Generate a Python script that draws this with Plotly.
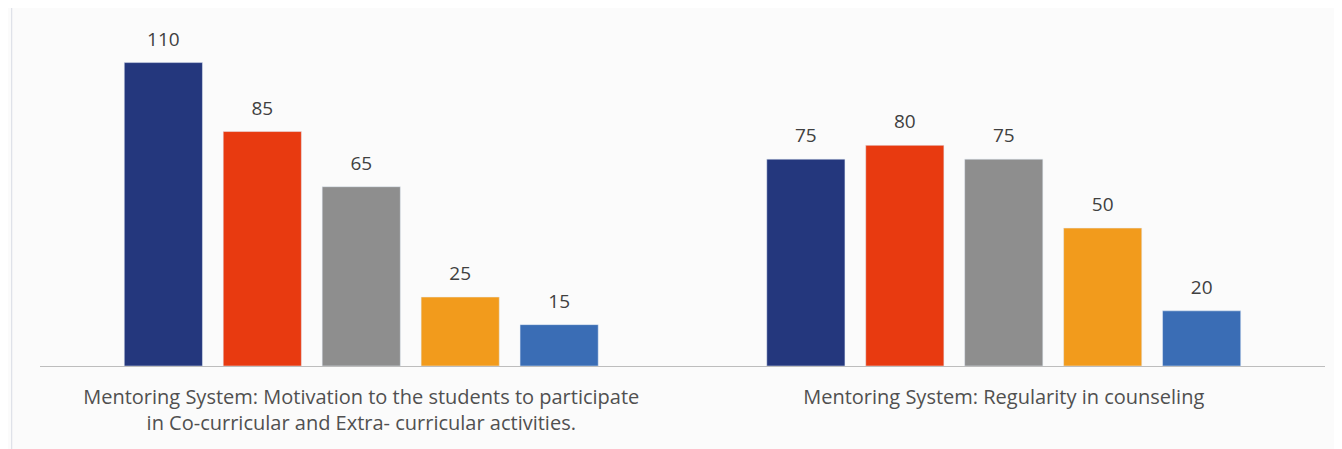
import plotly.graph_objects as go

# Data
categories = [
    "Mentoring System: Motivation to the students to participate<br>in Co-curricular and Extra- curricular activities.",
    "Mentoring System: Regularity in counseling",
]
series_names = ["Series 1", "Series 2", "Series 3", "Series 4", "Series 5"]
series_values = [
    [110, 75],
    [85, 80],
    [65, 75],
    [25, 50],
    [15, 20],
]
colors = ["#24377d", "#e83a10", "#8e8e8e", "#f29b1c", "#3a6db5"]

fig = go.Figure()

# bars
for name, vals, col in zip(series_names, series_values, colors):
    fig.add_trace(go.Bar(x=categories, y=vals, name=name, marker_color=col,
                         offsetgroup=name, hoverinfo="skip"))

# value labels sitting above each bar (invisible marker pushes the text up)
for name, vals in zip(series_names, series_values):
    fig.add_trace(go.Scatter(x=categories, y=vals, mode="markers+text", text=[str(v) for v in vals],
                             textposition="top center", offsetgroup=name, cliponaxis=False,
                             marker=dict(size=18, opacity=0),
                             textfont=dict(family="Open Sans", size=19, color="#404040"),
                             hoverinfo="skip", showlegend=False))

# page body has an 8px margin, so the figure is sized to fit the window
fig.update_layout(
    width=1334, height=441,
    barmode="group", scattermode="group",
    bargap=0.23, bargroupgap=0.21, scattergap=0.23,
    showlegend=False,
    paper_bgcolor="#fbfbfb", plot_bgcolor="#fbfbfb",
    margin=dict(l=32, r=17, t=27, b=83),
    font=dict(family="Open Sans", color="#505050"),
    xaxis=dict(showgrid=False, showline=True, linecolor="#bdbdbd", linewidth=1,
               ticks="outside", ticklen=13, tickcolor="rgba(0,0,0,0)",
               tickfont=dict(family="Open Sans", size=20, color="#505050")),
    yaxis=dict(range=[0, 120], visible=False),
    shapes=[
        dict(type="line", xref="paper", yref="paper", x0=-0.022, x1=1.02, y0=1.09, y1=1.09,
             line=dict(color="#d8dce4", width=1)),
        dict(type="line", xref="paper", yref="paper", x0=-0.022, x1=-0.022, y0=-0.3, y1=1.09,
             line=dict(color="#d8dce4", width=1)),
    ],
)

fig.write_html("out.html")
